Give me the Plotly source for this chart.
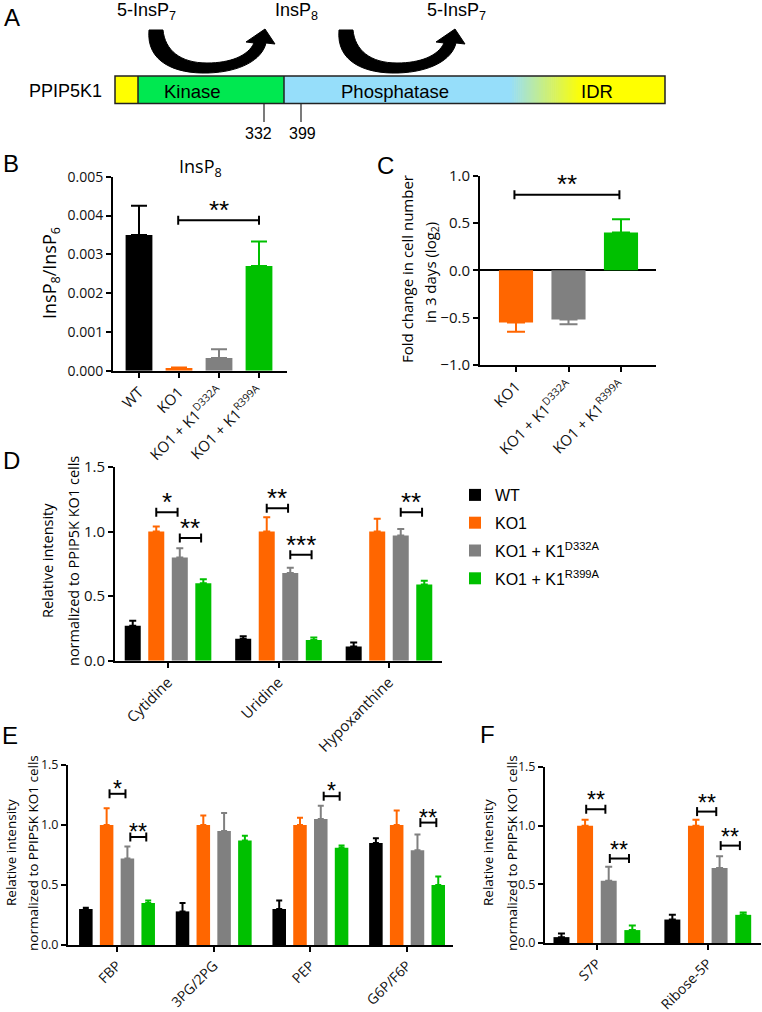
import plotly.graph_objects as go

W, H = 762, 1012

# ---------------- data ----------------
series_names = ["WT", "KO1", "KO1 + K1<sup>D332A</sup>", "KO1 + K1<sup>R399A</sup>"]
series_colors = ["#000000", "#FF6600", "#808080", "#00C000"]

# Panel B  (InsP8 / InsP6)
b_groups = ["WT", "KO1", "KO1 + K1<sup>D332A</sup>", "KO1 + K1<sup>R399A</sup>"]
b_values = [0.0035, 0.00007, 0.00033, 0.0027]
b_errors = [0.00075, 0.00001, 0.00022, 0.00063]
b_sig = [(1, 3, 0.00388, "**")]

# Panel C  (fold change in cell number, log2)
c_groups = ["KO1", "KO1 + K1<sup>D332A</sup>", "KO1 + K1<sup>R399A</sup>"]
c_values = [-0.55, -0.52, 0.40]
c_errors = [0.10, 0.05, 0.14]
c_sig = [(0, 2, 0.80, "**")]

# Panel D  (nucleosides)
d_metabolites = ["Cytidine", "Uridine", "Hypoxanthine"]
d_wt = [0.27, 0.17, 0.11]
d_wt_err = [0.04, 0.02, 0.03]
d_ko1 = [1.00, 1.00, 1.00]
d_ko1_err = [0.04, 0.11, 0.10]
d_d332a = [0.80, 0.68, 0.97]
d_d332a_err = [0.07, 0.04, 0.05]
d_r399a = [0.60, 0.16, 0.59]
d_r399a_err = [0.03, 0.02, 0.03]
d_sig = [(0, 1, 2, 1.15, "*"), (0, 2, 3, 0.95, "**"), (1, 1, 2, 1.18, "**"),
         (1, 2, 3, 0.82, "***"), (2, 2, 3, 1.15, "**")]

# Panel E  (glycolysis)
e_metabolites = ["FBP", "3PG/2PG", "PEP", "G6P/F6P"]
e_wt = [0.30, 0.28, 0.30, 0.85]
e_wt_err = [0.01, 0.07, 0.07, 0.04]
e_ko1 = [1.00, 1.00, 1.00, 1.00]
e_ko1_err = [0.14, 0.08, 0.06, 0.12]
e_d332a = [0.72, 0.95, 1.05, 0.79]
e_d332a_err = [0.10, 0.15, 0.11, 0.13]
e_r399a = [0.35, 0.87, 0.81, 0.50]
e_r399a_err = [0.02, 0.04, 0.02, 0.07]
e_sig = [(0, 1, 2, 1.26, "*"), (0, 2, 3, 0.90, "**"), (2, 2, 3, 1.24, "*"), (3, 2, 3, 1.02, "**")]

# Panel F  (pentose phosphate)
f_metabolites = ["S7P", "Ribose-5P"]
f_wt = [0.05, 0.20]
f_wt_err = [0.03, 0.04]
f_ko1 = [1.00, 1.00]
f_ko1_err = [0.05, 0.05]
f_d332a = [0.53, 0.64]
f_d332a_err = [0.12, 0.10]
f_r399a = [0.11, 0.24]
f_r399a_err = [0.04, 0.02]
f_sig = [(0, 1, 2, 1.14, "**"), (0, 2, 3, 0.72, "**"), (1, 1, 2, 1.12, "**"), (1, 2, 3, 0.83, "**")]

# ---------------- helpers ----------------
FONT = "Open Sans"
ARIAL = "Liberation Sans, Arial"


def px(x):
    return x / W


def py(y):
    return 1 - y / H


fig = go.Figure()
shapes = []
annotations = []


def axis_style(tsize):
    return dict(showline=True, linecolor="black", linewidth=2, ticks="outside", ticklen=5,
                tickwidth=2, tickcolor="black", showgrid=False, zeroline=False, automargin=False,
                tickfont=dict(family=FONT, size=tsize, color="#111"), fixedrange=True)


def add_bracket(xr, yr, xa, xb, y, label, star_size, yshift):
    shapes.append(dict(type="line", xref=xr, yref=yr, x0=xa, x1=xb, y0=y, y1=y,
                       line=dict(color="black", width=2)))
    for xx in (xa, xb):
        shapes.append(dict(type="line", xref=xr, yref=yr, x0=xx, x1=xx, ysizemode="pixel",
                           yanchor=y, y0=-4.5, y1=4.5, line=dict(color="black", width=2)))
    annotations.append(dict(xref=xr, yref=yr, x=(xa + xb) / 2, y=y, text=label, showarrow=False,
                            yanchor="middle", yshift=yshift,
                            font=dict(family=ARIAL, size=star_size, color="black")))


def err(e, v):
    return dict(type="data", array=[e if v >= 0 else 0], arrayminus=[0 if v >= 0 else e],
                symmetric=False, thickness=2, width=8)


# ---------------- Panel B ----------------
for k, g in enumerate(b_groups):
    e = err(b_errors[k], b_values[k])
    e["color"] = series_colors[k]
    fig.add_trace(go.Bar(x=[g], y=[b_values[k]], marker=dict(color=series_colors[k], line=dict(width=0)),
                         width=0.67, offset=-0.335, error_y=e, xaxis="x", yaxis="y",
                         showlegend=False, hoverinfo="skip"))
for a, b, y, lab in b_sig:
    add_bracket("x", "y", a - 0.02, b, y, lab, 26, 10)

# ---------------- Panel C ----------------
for k, g in enumerate(c_groups):
    e = err(c_errors[k], c_values[k])
    e["color"] = series_colors[k + 1]
    e["width"] = 9
    fig.add_trace(go.Bar(x=[g], y=[c_values[k]], marker=dict(color=series_colors[k + 1], line=dict(width=0)),
                         width=0.65, offset=-0.325, error_y=e, xaxis="x2", yaxis="y2",
                         showlegend=False, hoverinfo="skip"))
for a, b, y, lab in c_sig:
    add_bracket("x2", "y2", a - 0.03, b - 0.03, y, lab, 26, 11)


# ---------------- grouped panels ----------------
def grouped(cats, vals, errs, xr, yr, spacing, width, capw, legend):
    for i in range(4):
        fig.add_trace(go.Bar(
            x=cats, y=vals[i], name=series_names[i], legendgroup="g%d" % i,
            marker=dict(color=series_colors[i], line=dict(width=0)),
            width=width, offset=(i - 1.5) * spacing - width / 2,
            error_y=dict(type="data", array=errs[i], arrayminus=[0] * len(cats), symmetric=False,
                         color=series_colors[i], thickness=2, width=capw),
            xaxis=xr, yaxis=yr, showlegend=legend, hoverinfo="skip"))


grouped(d_metabolites, [d_wt, d_ko1, d_d332a, d_r399a],
        [d_wt_err, d_ko1_err, d_d332a_err, d_r399a_err], "x3", "y3", 0.213, 0.145, 3.5, True)
for g, i, j, y, lab in d_sig:
    add_bracket("x3", "y3", g + (i - 1.5) * 0.213, g + (j - 1.5) * 0.213 - 0.02, y, lab, 26, 10)

grouped(e_metabolites, [e_wt, e_ko1, e_d332a, e_r399a],
        [e_wt_err, e_ko1_err, e_d332a_err, e_r399a_err], "x4", "y4", 0.215, 0.14, 3, False)
for g, i, j, y, lab in e_sig:
    add_bracket("x4", "y4", g + (i - 1.5) * 0.215 + 0.03, g + (j - 1.5) * 0.215 - 0.02, y, lab, 23, 5)

grouped(f_metabolites, [f_wt, f_ko1, f_d332a, f_r399a],
        [f_wt_err, f_ko1_err, f_d332a_err, f_r399a_err], "x5", "y5", 0.213, 0.144, 3.5, False)
for g, i, j, y, lab in f_sig:
    add_bracket("x5", "y5", g + (i - 1.5) * 0.213 + 0.01, g + (j - 1.5) * 0.213 - 0.03, y, lab, 23, 9)

# ---------------- axes ----------------
layout_axes = {}
# B
xa = axis_style(15); xa.update(domain=[px(113), px(287)], anchor="y", range=[-0.65, 3.7], tickangle=-45,
                               type="category", categoryorder="array", categoryarray=b_groups)
ya = axis_style(14); ya.update(domain=[py(370.7), py(176.7)], anchor="x", range=[0, 0.005], dtick=0.001,
                               tickformat=".3f")
layout_axes["xaxis"] = xa; layout_axes["yaxis"] = ya
# C
xa = axis_style(15); xa.update(domain=[px(480), px(656)], anchor="y2", range=[-0.686, 2.667], tickangle=-45,
                               type="category", categoryorder="array", categoryarray=c_groups)
ya = axis_style(15); ya.update(domain=[py(365), py(175.7)], anchor="x2", range=[-1, 1], dtick=0.5,
                               tickformat=".1f", zeroline=True, zerolinecolor="black", zerolinewidth=2)
layout_axes["xaxis2"] = xa; layout_axes["yaxis2"] = ya
# D
xa = axis_style(15); xa.update(domain=[px(115), px(442)], anchor="y3", range=[-0.48, 2.48], tickangle=-45,
                               type="category")
ya = axis_style(15); ya.update(domain=[py(660.7), py(467)], anchor="x3", range=[0, 1.5], dtick=0.5,
                               tickformat=".1f")
layout_axes["xaxis3"] = xa; layout_axes["yaxis3"] = ya
# E
xa = axis_style(14); xa.update(domain=[px(68), px(453)], anchor="y4", range=[-0.507, 3.475], tickangle=-45,
                               type="category")
ya = axis_style(12.5); ya.update(domain=[py(945), py(765)], anchor="x4", range=[0, 1.5], dtick=0.5,
                                 tickformat=".1f")
layout_axes["xaxis4"] = xa; layout_axes["yaxis4"] = ya
# F
xa = axis_style(14); xa.update(domain=[px(545), px(761)], anchor="y5", range=[-0.468, 1.48], tickangle=-45,
                               type="category")
ya = axis_style(12.5); ya.update(domain=[py(943), py(767)], anchor="x5", range=[0, 1.5], dtick=0.5,
                                 tickformat=".1f")
layout_axes["xaxis5"] = xa; layout_axes["yaxis5"] = ya

# ---------------- axis titles / panel letters ----------------
def ann(x, y, text, size, family=FONT, angle=0, xanchor="center"):
    annotations.append(dict(xref="paper", yref="paper", x=px(x), y=py(y), text=text, showarrow=False,
                            textangle=angle, xanchor=xanchor, yanchor="middle",
                            font=dict(family=family, size=size, color="black")))


ann(50, 273, "InsP<sub>8</sub>/InsP<sub>6</sub>", 18, angle=-90)
ann(200, 167, "InsP<sub>8</sub>", 18)
ann(407, 269, "Fold change in cell number", 15, angle=-90)
ann(431, 272, "in 3 days (log<sub>2</sub>)", 15, angle=-90)
ann(47, 561, "Relative intensity", 14.5, angle=-90)
ann(73, 561, "normalized to PPIP5K KO1 cells", 14.5, angle=-90)
ann(11, 853, "Relative intensity", 13.5, angle=-90)
ann(33, 853, "normalized to PPIP5K KO1 cells", 13.5, angle=-90)
ann(488, 853, "Relative intensity", 13.5, angle=-90)
ann(512, 853, "normalized to PPIP5K KO1 cells", 13.5, angle=-90)

for letter, x, y in [("A", 12, 17), ("B", 11, 164), ("C", 386, 165), ("D", 11, 461), ("E", 10, 735), ("F", 487, 734)]:
    ann(x, y, letter, 24, family=ARIAL)

# ---------------- Panel A (domain diagram) ----------------
def rect(x0, x1, y0, y1, fill, lw=0):
    shapes.append(dict(type="rect", xref="paper", yref="paper", x0=px(x0), x1=px(x1), y0=py(y1), y1=py(y0),
                       fillcolor=fill, line=dict(color="black", width=lw), layer="above"))


box_top, box_bot = 76, 103.5
blue = (150, 222, 250)
yellow = (255, 255, 0)
rect(115, 138, box_top, box_bot, "#FFFF00")
rect(138, 284, box_top, box_bot, "#00E850")
rect(284, 511, box_top, box_bot, "rgb(150,222,250)")
n_sl = 35
g0, g1 = 510, 582
for s in range(n_sl):
    t = (s + 0.5) / n_sl
    c = tuple(round(blue[k] + (yellow[k] - blue[k]) * t) for k in range(3))
    rect(g0 + (g1 - g0) * s / n_sl, g0 + (g1 - g0) * (s + 1) / n_sl + 0.6, box_top, box_bot, "rgb(%d,%d,%d)" % c)
rect(582, 665, box_top, box_bot, "#FFFF00")
shapes.append(dict(type="rect", xref="paper", yref="paper", x0=px(115), x1=px(665), y0=py(box_bot), y1=py(box_top),
                   line=dict(color="#222", width=1.5), layer="above"))
for xx in (138, 284):
    shapes.append(dict(type="line", xref="paper", yref="paper", x0=px(xx), x1=px(xx), y0=py(box_bot), y1=py(box_top),
                       line=dict(color="#222", width=1.5), layer="above"))
for xx in (264, 301):
    shapes.append(dict(type="line", xref="paper", yref="paper", x0=px(xx), x1=px(xx), y0=py(104), y1=py(122),
                       line=dict(color="#222", width=1.2), layer="above"))

ann(65, 91, "PPIP5K1", 18, family=ARIAL)
ann(193, 91, "Kinase", 18.5, family=ARIAL)
ann(395, 91, "Phosphatase", 18.5, family=ARIAL)
ann(597, 91, "IDR", 18.5, family=ARIAL)
ann(258, 133, "332", 16, family=ARIAL)
ann(302, 133, "399", 16, family=ARIAL)
ann(146, 11, "5-InsP<sub>7</sub>", 18, family=ARIAL)
ann(296, 11, "InsP<sub>8</sub>", 18, family=ARIAL)
ann(456, 11, "5-InsP<sub>7</sub>", 18, family=ARIAL)

arrow_pts = [("M", [(149, 30)]),
             ("C", [(146, 62), (175, 74), (208, 73)]),
             ("C", [(240, 72), (262, 60), (266, 43)]),
             ("L", [(275, 44)]),
             ("L", [(265, 29)]),
             ("L", [(246, 42)]),
             ("L", [(254, 43)]),
             ("C", [(248, 56), (230, 63), (207, 63)]),
             ("C", [(180, 63), (165, 50), (163, 30)])]


def arrow_path(dx):
    parts = []
    for cmd, pts in arrow_pts:
        parts.append(cmd + " " + " ".join("%.5f,%.5f" % (px(x + dx), py(y)) for x, y in pts))
    return " ".join(parts) + " Z"


for dx in (0, 190):
    shapes.append(dict(type="path", xref="paper", yref="paper", path=arrow_path(dx),
                       fillcolor="black", line=dict(color="black", width=1), layer="above"))

fig.update_layout(
    width=W, height=H, margin=dict(l=0, r=0, t=0, b=0, pad=0, autoexpand=False),
    paper_bgcolor="white", plot_bgcolor="white",
    barmode="overlay",
    shapes=shapes, annotations=annotations,
    legend=dict(x=px(455), y=py(478), xanchor="left", yanchor="top",
                font=dict(family=ARIAL, size=16, color="black"), bgcolor="rgba(0,0,0,0)",
                itemsizing="constant", tracegroupgap=4),
    **layout_axes,
)

fig.write_html("out.html", config={"displayModeBar": False, "staticPlot": True},
               post_script="document.body.style.margin='0px';document.body.style.padding='0px';"
                           "document.documentElement.style.overflow='hidden';")
